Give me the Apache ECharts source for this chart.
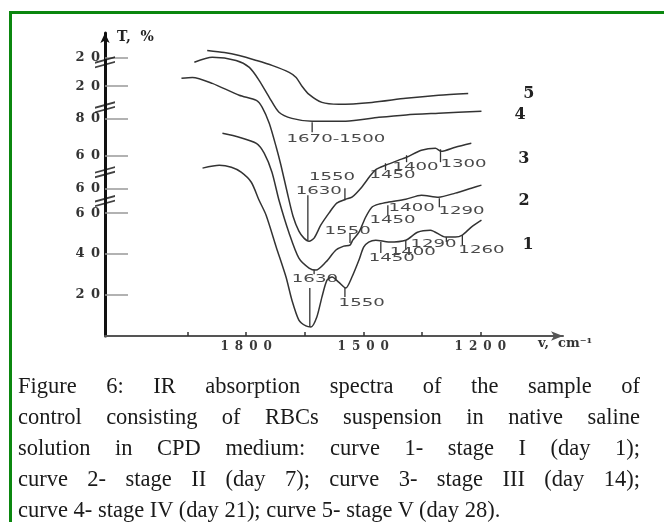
<!DOCTYPE html>
<html>
<head>
<meta charset="utf-8">
<script src="https://cdn.jsdelivr.net/npm/echarts@6/dist/echarts.min.js"></script>
<style>
  body { margin: 0; background: #fff; }
  #frame { position: absolute; left: 9px; top: 11px; width: 655px; height: 511px;
           border-top: 3px solid #0b870f; border-left: 3px solid #0b870f; }
  #chart { position: absolute; left: 0; top: 0; width: 664px; height: 522px; }
  #caption { position: absolute; left: 18px; top: 370px; width: 622px;
             font-family: 'Liberation Serif', serif; font-size: 22.5px; line-height: 31px; color: #1a1a1a; }
  #caption div { text-align: justify; text-align-last: justify; white-space: nowrap; }
  #caption div.last { text-align-last: left; }
</style>
</head>
<body>
<div id="chart"></div>
<div id="frame"></div>
<div id="caption">
  <div>Figure 6: IR absorption spectra of the sample of</div>
  <div>control consisting of RBCs suspension in native saline</div>
  <div>solution in CPD medium: curve 1- stage I (day 1);</div>
  <div>curve 2- stage II (day 7); curve 3- stage III (day 14);</div>
  <div class="last">curve 4- stage IV (day 21); curve 5- stage V (day 28).</div>
</div>
<script>
// wavenumbers (cm-1) and transmittance (offset scale, %)
const wn1 = [1912, 1869, 1838, 1813, 1787, 1767, 1749, 1723, 1698, 1683, 1665, 1647, 1634, 1619, 1606, 1593, 1580, 1563, 1545, 1529, 1511, 1499, 1486, 1468, 1435, 1391, 1361, 1328, 1289, 1264, 1246, 1223, 1197];
const t1 = [82, 83.4, 82.4, 80, 75.1, 66.3, 59, 43.4, 28.8, 17.6, 7.8, 4.9, 4.4, 9.3, 19, 27.3, 28.8, 26.3, 23.4, 28.8, 37.1, 43.4, 45.9, 46.8, 45.9, 46.8, 50.7, 51.7, 48.3, 48.3, 49.3, 53.2, 56.6];

const wn2 = [1861, 1818, 1774, 1754, 1734, 1716, 1690, 1665, 1639, 1621, 1596, 1570, 1550, 1534, 1527, 1511, 1494, 1478, 1460, 1435, 1391, 1351, 1307, 1264, 1223, 1197];
const t2 = [99, 97.1, 94.1, 89.3, 80, 66.3, 50.2, 38, 33.2, 32.2, 36.1, 42, 43.9, 44.4, 46.8, 50.7, 58, 62.9, 64.4, 65.4, 66.8, 68.8, 67.8, 69.8, 72.2, 73.7];

const wn3 = [1966, 1938, 1887, 1818, 1774, 1759, 1741, 1723, 1711, 1695, 1680, 1665, 1652, 1639, 1626, 1609, 1588, 1568, 1545, 1529, 1504, 1481, 1466, 1443, 1409, 1389, 1351, 1315, 1300, 1264, 1223];
const t3 = [125.9, 126.3, 123.4, 117.6, 115.1, 111.7, 103.9, 92.2, 83.4, 70.2, 58.5, 51.2, 47.8, 46.3, 47.8, 54.1, 60, 64.9, 66.8, 67.8, 72.7, 78.5, 81.5, 83.4, 85.9, 87.3, 90.7, 91.7, 90.2, 92.2, 94.1];

const wn4 = [1933, 1887, 1826, 1792, 1767, 1741, 1716, 1683, 1631, 1545, 1460, 1390, 1307, 1197];
const t4 = [133.7, 136.1, 134.6, 131.2, 124.9, 116.6, 109.3, 106.3, 104.9, 104.9, 106.8, 108, 108.8, 109.8];

const wn5 = [1900, 1856, 1818, 1774, 1734, 1690, 1672, 1657, 1639, 1606, 1563, 1478, 1391, 1307, 1231];
const t5 = [139.5, 138.5, 137, 134.6, 132.2, 128.8, 126.3, 122, 118, 114.1, 113.2, 114.1, 116.1, 117.6, 118.5];

const curveNames = ['1', '2', '3', '4', '5'];

// peak marks: vertical bar from tickTop to tickBot at tickWn
const tickWn = [1631, 1642, 1547, 1443, 1389, 1302, 1626, 1534, 1437, 1305, 1637, 1547, 1455, 1391, 1287, 1246];
const tickTop = [104.4, 68.8, 72.2, 84.4, 88.3, 91.2, 32.2, 50.2, 63.9, 67.3, 23.4, 23.4, 45.9, 46.8, 48.3, 49.3];
const tickBot = [99.5, 46.8, 66.3, 81, 84.9, 84.9, 30.2, 45.4, 59, 62.9, 4.4, 19, 40.5, 42, 45.9, 44.4];

// peak labels
const peakText = ['1670-1500', '1630', '1550', '1450', '1400', '1300', '1630', '1550', '1450', '1400', '1290', '1550', '1450', '1400', '1290', '1260'];
const peakWn = [1570, 1614, 1580, 1425, 1366, 1243, 1624, 1540, 1425, 1376, 1248, 1504, 1427, 1373, 1320, 1197];
const peakT = [96.1, 70.7, 77.6, 78.5, 82.4, 83.9, 27.8, 51.2, 56.6, 62.4, 61, 16.1, 38, 41, 44.9, 42];

// axes
const xTicks = [1950, 1800, 1650, 1500, 1350, 1200];
const xLabels = [1800, 1500, 1200];
const yTickPos = [20, 40, 60, 72, 88, 106, 122, 136];
const yTickText = ['20', '40', '60', '60', '60', '80', '20', '20'];
const breakPos = [65.9, 80, 111.7, 133.7];

const X_MIN = 988, X_MAX = 2162;

const spaced = (s) => s.split('').join('\u2002');

const curves = [[wn1, t1], [wn2, t2], [wn3, t3], [wn4, t4], [wn5, t5]];
const endOffsets = [[41, 25], [37, 16], [47, 15], [33, 4], [55, 0]];

const buildSeries = () => {
  const lines = curves.map(([wn, t], i) => ({
    name: curveNames[i],
    type: 'line',
    data: wn.map((w, j) => [w, t[j]]),
    showSymbol: false,
    smooth: 0.25,
    lineStyle: { color: '#333', width: 1.5 },
    endLabel: {
      show: true,
      formatter: '{a}',
      align: 'left',
      verticalAlign: 'middle',
      distance: 0,
      offset: endOffsets[i],
      fontFamily: 'DejaVu Serif',
      fontWeight: 'bold',
      fontSize: 16,
      color: '#222'
    },
    silent: true
  }));

  const ticks = {
    type: 'custom',
    data: tickWn.map((w, i) => [w, tickTop[i], tickBot[i]]),
    encode: { x: 0, y: [1, 2] },
    renderItem: (params, api) => {
      const p1 = api.coord([api.value(0), api.value(1)]);
      const p2 = api.coord([api.value(0), api.value(2)]);
      return {
        type: 'line',
        shape: { x1: p1[0], y1: p1[1], x2: p2[0], y2: p2[1] },
        style: { stroke: '#333', lineWidth: 1.3 }
      };
    },
    silent: true
  };

  const labels = {
    type: 'custom',
    data: peakWn.map((w, i) => [w, peakT[i]]),
    encode: { x: 0, y: 1 },
    renderItem: (params, api) => {
      const p = api.coord([api.value(0), api.value(1)]);
      return {
        type: 'text',
        x: p[0],
        y: p[1],
        scaleX: 1.65,
        style: {
          text: peakText[params.dataIndex],
          fill: '#4a4a4a',
          fontFamily: 'DejaVu Sans',
          fontSize: 11,
          align: 'center',
          verticalAlign: 'middle'
        }
      };
    },
    silent: true
  };

  const breaks = {
    type: 'scatter',
    data: breakPos.map((v) => [X_MAX, v]),
    symbol: 'path://M0,9 L22,3 L22,5 L0,11 Z M0,14 L22,8 L22,10 L0,16 Z',
    symbolSize: [20, 12],
    itemStyle: { color: '#111' },
    clip: false,
    silent: true,
    z: 5
  };

  return [...lines, ticks, labels, breaks];
};

const getOption = () => ({
  animation: false,
  title: {
    text: 'T,  %',
    left: 112,
    top: 25,
    textStyle: { fontFamily: 'DejaVu Serif', fontWeight: 'bold', fontSize: 14, color: '#222' }
  },
  graphic: [{
    type: 'text',
    left: 538,
    top: 337,
    style: { text: 'v,  cm\u207B\u00B9', fontFamily: 'DejaVu Serif', fontWeight: 'bold', fontSize: 13, fill: '#333' }
  }],
  grid: { left: 105, right: 101, top: 33, bottom: 186 },
  xAxis: {
    type: 'value',
    min: X_MIN,
    max: X_MAX,
    inverse: true,
    splitLine: { show: false },
    axisLine: { lineStyle: { color: '#555', width: 2 }, symbol: ['none', 'arrow'], symbolSize: [7, 12] },
    axisTick: { customValues: xTicks, inside: true, length: 4, lineStyle: { color: '#333', width: 1.5 } },
    axisLabel: {
      customValues: xLabels,
      formatter: (v) => spaced(String(v)),
      margin: 5,
      fontFamily: 'DejaVu Serif',
      fontWeight: 'bold',
      fontSize: 12,
      color: '#3a3a3a'
    }
  },
  yAxis: {
    type: 'value',
    min: 0,
    max: 148,
    splitLine: { show: false },
    axisLine: { lineStyle: { color: '#111', width: 3 }, symbol: ['none', 'arrow'], symbolSize: [7, 10] },
    axisTick: { customValues: yTickPos, inside: true, length: 23, lineStyle: { color: '#999', width: 1.5 } },
    axisLabel: {
      customValues: yTickPos,
      formatter: (v) => spaced(yTickText[yTickPos.indexOf(v)] || ''),
      margin: 5,
      fontFamily: 'DejaVu Serif',
      fontWeight: 'bold',
      fontSize: 13,
      color: '#333'
    }
  },
  series: buildSeries()
});

const initCharts = () => {
  const chart = echarts.init(document.getElementById('chart'));
  chart.setOption(getOption());
};

window.addEventListener('load', () => {
  initCharts();
});
</script>
</body>
</html>
